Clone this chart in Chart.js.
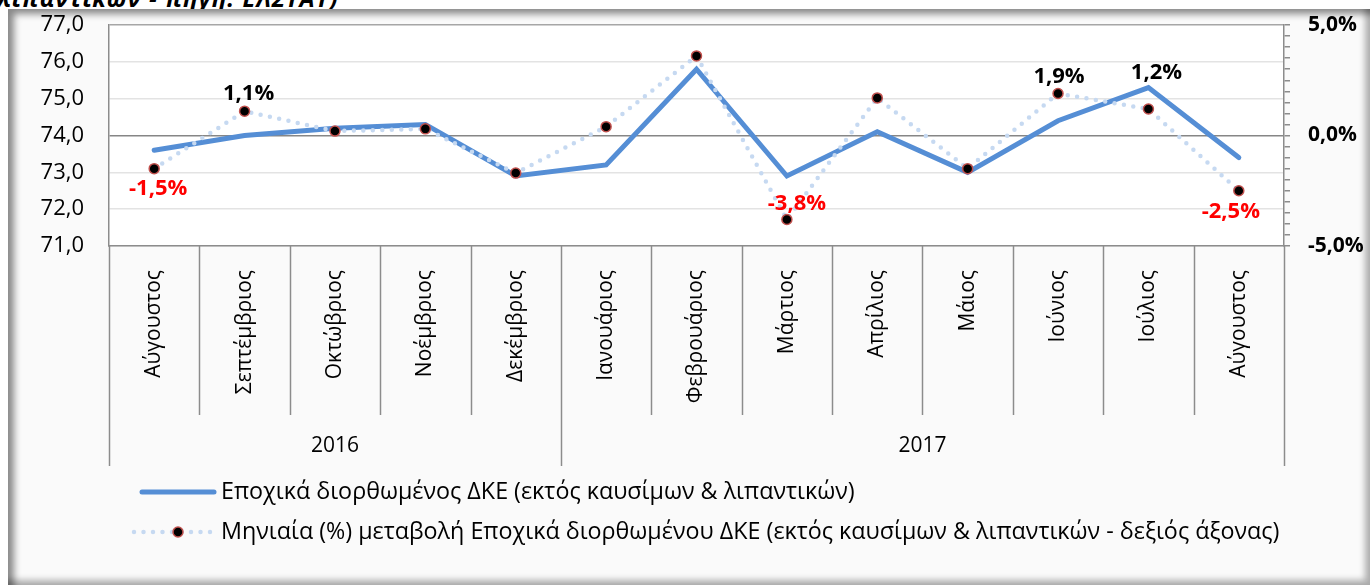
<!DOCTYPE html>
<html>
<head>
<meta charset="utf-8">
<script src="https://cdn.jsdelivr.net/npm/chart.js@4.4.1/dist/chart.umd.min.js"></script>
<style>
html, body { margin: 0; padding: 0; background: #fff; overflow: hidden; }
#wrap { position: relative; width: 1370px; height: 585px; }
#title { position: absolute; left: -3px; top: -19px; font: italic bold 24px "Open Sans"; color: #000; white-space: nowrap; letter-spacing: 1px; }
#panel { position: absolute; left: 8px; top: 9px; width: 1362px; height: 576px; background: #fafafa;
  box-shadow: inset 6px 5px 7px rgba(0,0,0,.45), inset -5px -5px 6px rgba(0,0,0,.3); }
canvas { position: absolute; left: 0; top: 0; }
</style>
</head>
<body>
<div id="wrap">
  <div id="title">λιπαντικών - πηγή: ΕΛΣΤΑΤ)</div>
  <div id="panel"></div>
  <canvas id="chart" width="1370" height="585"></canvas>
</div>
<script>
const months = ['Αύγουστος', 'Σεπτέμβριος', 'Οκτώβριος', 'Νοέμβριος', 'Δεκέμβριος', 'Ιανουάριος',
  'Φεβρουάριος', 'Μάρτιος', 'Απρίλιος', 'Μάιος', 'Ιούνιος', 'Ιούλιος', 'Αύγουστος'];
const years = ['2016', '2016', '2016', '2016', '2016', '2017', '2017', '2017', '2017', '2017', '2017', '2017', '2017'];
const cpiAdjusted = [73.6, 74.0, 74.2, 74.3, 72.9, 73.2, 75.8, 72.9, 74.1, 73.0, 74.4, 75.3, 73.4];
const monthlyChange = [-1.5, 1.1, 0.2, 0.3, -1.7, 0.4, 3.6, -3.8, 1.7, -1.5, 1.9, 1.2, -2.5];
const labelledPoints = [0, 1, 7, 10, 11, 12];

const FONT = '"Open Sans", "Noto Sans", sans-serif';
const BLUE = '#558ed5';
const DOTS = '#c6d9f1';
const fmt = v => v.toFixed(1).replace('.', ',');

// label offsets (dx, dy) from the point
const labelOffsets = { 0: [4, 20], 1: [4, -17], 7: [10, -16], 10: [1, -17], 11: [8, -36], 12: [-8, 21] };

// the vertical axes add tick padding above the top label; drop it so the plot starts where we want
const noAxisPadding = s => { s.paddingTop = 0; s.paddingBottom = 0; };

const plotBg = {
    id: 'plotBg',
    beforeDraw(chart) {
        const { ctx, chartArea: a } = chart;
        ctx.save();
        ctx.fillStyle = '#fff';
        ctx.fillRect(a.left, a.top, a.right - a.left, a.bottom - a.top);
        ctx.restore();
    }
};

const categoryBoxes = {
    id: 'categoryBoxes',
    afterDraw(chart) {
        const { ctx, chartArea: a } = chart;
        const xs = chart.scales.x;
        const step = xs.getPixelForValue(1) - xs.getPixelForValue(0);
        const edge = i => xs.getPixelForValue(i) - step / 2;
        ctx.save();
        ctx.strokeStyle = '#8c8c8c';
        ctx.lineWidth = 1.5;
        for (let i = 0; i <= months.length; i++) {
            const yearEdge = i === 0 || i === months.length || years[i] !== years[i - 1];
            const x = Math.round(edge(i)) + 0.5;
            ctx.beginPath();
            ctx.moveTo(x, a.bottom);
            ctx.lineTo(x, a.bottom + (yearEdge ? 220 : 169));
            ctx.stroke();
        }
        ctx.fillStyle = '#000';
        ctx.font = '21px ' + FONT;
        ctx.textAlign = 'center';
        ctx.textBaseline = 'middle';
        let start = 0;
        for (let i = 1; i <= years.length; i++) {
            if (i === years.length || years[i] !== years[start]) {
                ctx.fillText(years[start], (edge(start) + edge(i)) / 2, a.bottom + 200);
                start = i;
            }
        }
        ctx.restore();
    }
};

const pointLabels = {
    id: 'pointLabels',
    afterDatasetsDraw(chart) {
        const { ctx } = chart;
        const meta = chart.getDatasetMeta(1);
        ctx.save();
        ctx.font = 'bold 22px ' + FONT;
        ctx.textAlign = 'center';
        ctx.textBaseline = 'middle';
        labelledPoints.forEach(i => {
            const p = meta.data[i];
            const v = monthlyChange[i];
            const [dx, dy] = labelOffsets[i];
            ctx.fillStyle = v < 0 ? '#ff0000' : '#000';
            ctx.fillText(fmt(v) + '%', p.x + dx, p.y + dy);
        });
        ctx.restore();
    }
};

const excelLegend = {
    id: 'excelLegend',
    afterDraw(chart) {
        const { ctx } = chart;
        const ds = chart.data.datasets;
        const x0 = 142, x1 = 214, tx = 221;
        const rows = [492, 532];
        ctx.save();
        // solid line
        ctx.strokeStyle = ds[0].borderColor;
        ctx.lineWidth = ds[0].borderWidth;
        ctx.lineCap = 'round';
        ctx.beginPath();
        ctx.moveTo(x0, rows[0]);
        ctx.lineTo(x1, rows[0]);
        ctx.stroke();
        // dotted line with marker
        ctx.strokeStyle = ds[1].borderColor;
        ctx.lineWidth = ds[1].borderWidth;
        ctx.setLineDash(ds[1].borderDash);
        ctx.beginPath();
        ctx.moveTo(x0 - 8, rows[1]);
        ctx.lineTo(x1, rows[1]);
        ctx.stroke();
        ctx.setLineDash([]);
        ctx.beginPath();
        ctx.arc((x0 + x1) / 2, rows[1], ds[1].pointRadius, 0, Math.PI * 2);
        ctx.fillStyle = ds[1].pointBackgroundColor;
        ctx.fill();
        ctx.lineWidth = ds[1].pointBorderWidth;
        ctx.strokeStyle = ds[1].pointBorderColor;
        ctx.stroke();
        ctx.fillStyle = '#000';
        ctx.font = '23.3px ' + FONT;
        ctx.textAlign = 'left';
        ctx.textBaseline = 'middle';
        ctx.fillText(ds[0].label, tx, rows[0]);
        ctx.fillText(ds[1].label, tx, rows[1]);
        ctx.restore();
    }
};

new Chart(document.getElementById('chart'), {
    type: 'line',
    data: {
        labels: months,
        datasets: [{
            label: 'Εποχικά διορθωμένος ΔΚΕ (εκτός καυσίμων & λιπαντικών)',
            data: cpiAdjusted,
            yAxisID: 'y',
            borderColor: BLUE,
            borderWidth: 5,
            borderCapStyle: 'round',
            pointRadius: 0,
            tension: 0,
            order: 1
        }, {
            label: 'Μηνιαία (%) μεταβολή Εποχικά διορθωμένου ΔΚΕ (εκτός καυσίμων & λιπαντικών - δεξιός άξονας)',
            data: monthlyChange,
            yAxisID: 'y1',
            borderColor: DOTS,
            borderWidth: 4.5,
            borderDash: [0, 9.5],
            borderCapStyle: 'round',
            pointRadius: 5,
            pointBackgroundColor: '#000',
            pointBorderColor: '#c0504d',
            pointBorderWidth: 1.5,
            tension: 0,
            order: 0
        }]
    },
    options: {
        responsive: false,
        animation: false,
        layout: { padding: { top: 25, left: 0, right: 0, bottom: 0 } },
        plugins: { legend: { display: false }, tooltip: { enabled: false } },
        scales: {
            x: {
                offset: true,
                grid: { display: false },
                border: { display: true, color: '#8c8c8c', width: 1.5 },
                ticks: { minRotation: 90, maxRotation: 90, autoSkip: false, padding: 16,
                    color: '#000', font: { family: FONT, size: 21 } },
                afterFit: s => { s.height = 339; }
            },
            y: {
                position: 'left',
                min: 71, max: 77,
                ticks: { stepSize: 1, padding: 25, color: '#000', font: { family: FONT, size: 22 },
                    callback: v => fmt(v) },
                grid: {
                    drawTicks: false,
                    lineWidth: 1.5,
                    color: c => c.tick.value === 74 ? '#868686' : (c.tick.value === 77 ? '#a6a6a6' : '#e3e3e3')
                },
                border: { display: true, color: '#8c8c8c', width: 1.5 },
                afterFit: s => { s.width = 109; noAxisPadding(s); }
            },
            y1: {
                position: 'right',
                min: -5, max: 5,
                ticks: { stepSize: 0.5, maxTicksLimit: 30, autoSkip: false, padding: 18, color: '#000',
                    font: { family: FONT, size: 21, weight: 'bold' },
                    callback: v => (Math.abs(v % 5) < 1e-9 ? fmt(v) + '%' : '') },
                grid: { drawOnChartArea: false, tickLength: 6, color: '#8c8c8c', lineWidth: 1.5 },
                border: { display: true, color: '#8c8c8c', width: 1.5 },
                afterFit: s => { s.width = 86; noAxisPadding(s); }
            }
        }
    },
    plugins: [plotBg, categoryBoxes, pointLabels, excelLegend]
});
</script>
</body>
</html>
